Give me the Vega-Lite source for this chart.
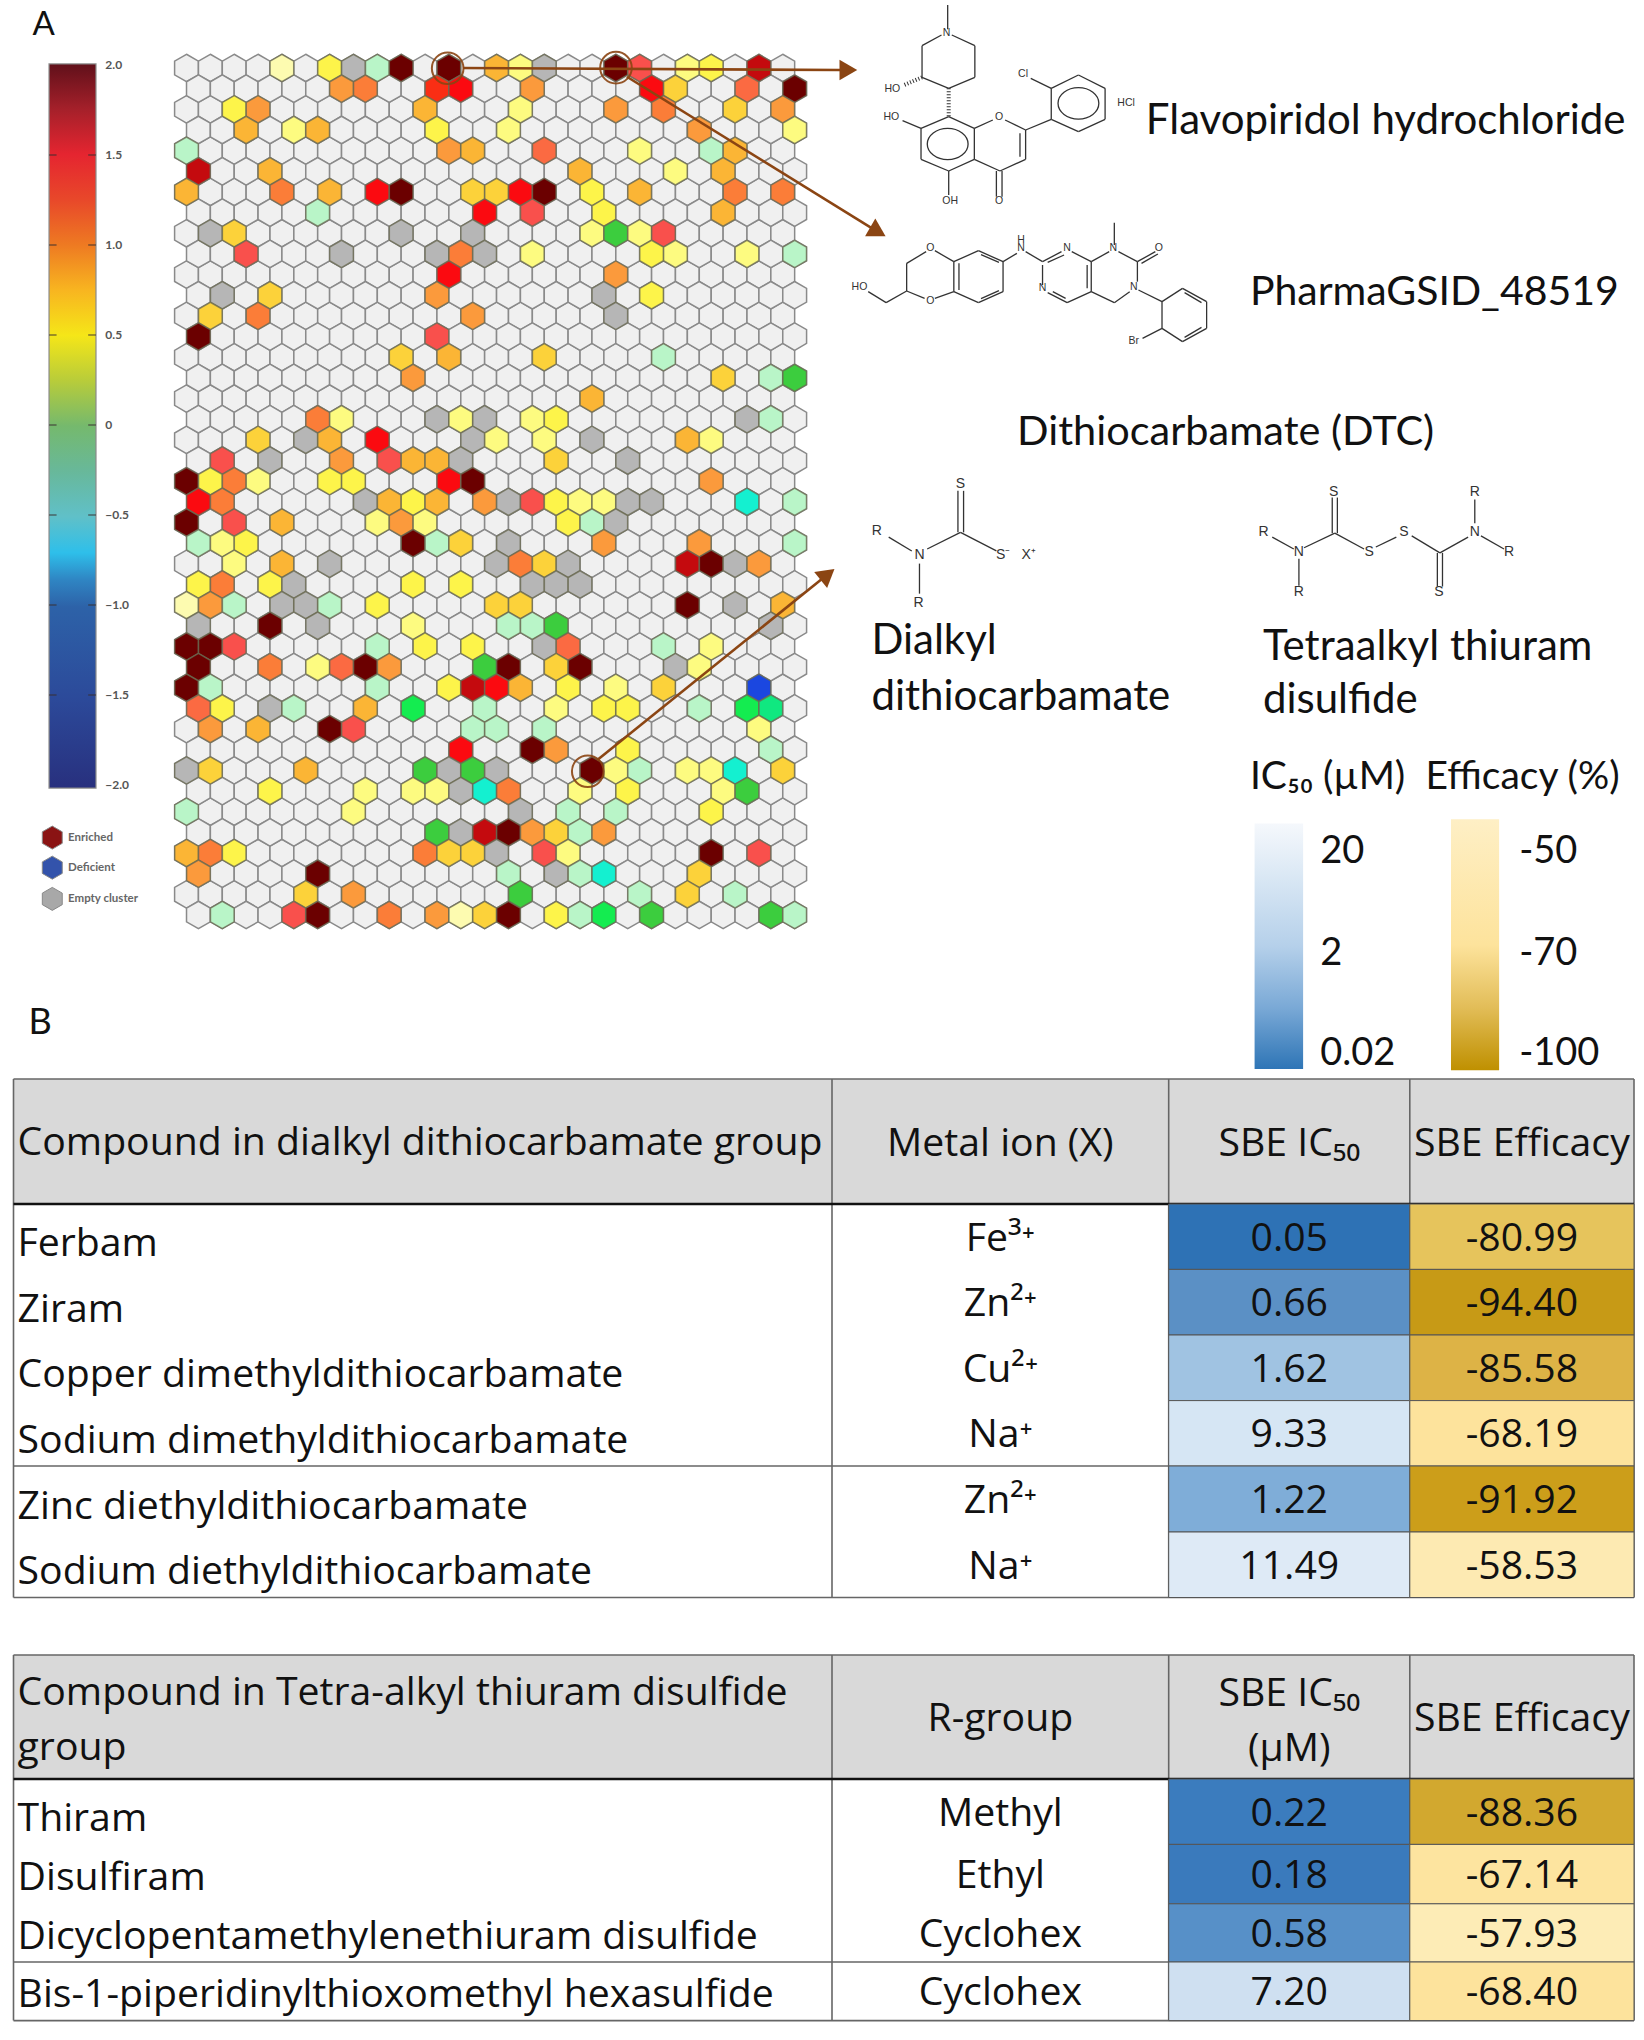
{"$schema":"https://vega.github.io/schema/vega-lite/v6.json","width":1644,"height":2040,"padding":0,"autosize":{"type":"none"},"background":"white","config":{"view":{"stroke":null},"axis":{"disable":true},"legend":{"disable":true},"text":{"font":"Lato"}},
"datasets":{
"grid":[{"y":[0,2,4,6,8,10,12,14,16,18,20,22,24,26,28,30,32,34,36,38,40],"x":[0,1,2,3,4,5,6,7,8,9,10,11,12,13,14,15,16,17,18,19,20,21,22,23,24,25]},{"y":[1,3,5,7,9,11,13,15,17,19,21,23,25,27,29,31,33,35,37,39,41],"x":[0.5,1.5,2.5,3.5,4.5,5.5,6.5,7.5,8.5,9.5,10.5,11.5,12.5,13.5,14.5,15.5,16.5,17.5,18.5,19.5,20.5,21.5,22.5,23.5,24.5,25.5]}],
"hits":[
{"y":0,"x":4,"k":"p"},{"y":0,"x":6,"k":"Y"},{"y":0,"x":7,"k":"X"},{"y":0,"x":8,"k":"m"},{"y":0,"x":9,"k":"M"},{"y":0,"x":11,"k":"M"},{"y":0,"x":13,"k":"A"},{"y":0,"x":14,"k":"y"},{"y":0,"x":15,"k":"X"},{"y":0,"x":18,"k":"M"},{"y":0,"x":19,"k":"r"},{"y":0,"x":21,"k":"y"},{"y":0,"x":22,"k":"Y"},{"y":0,"x":24,"k":"D"},
{"y":1,"x":6.5,"k":"O"},{"y":1,"x":7.5,"k":"o"},{"y":1,"x":10.5,"k":"T"},{"y":1,"x":11.5,"k":"R"},{"y":1,"x":14.5,"k":"O"},{"y":1,"x":19.5,"k":"R"},{"y":1,"x":20.5,"k":"G"},{"y":1,"x":23.5,"k":"s"},{"y":1,"x":25.5,"k":"M"},
{"y":2,"x":2,"k":"Y"},{"y":2,"x":3,"k":"O"},{"y":2,"x":10,"k":"A"},{"y":2,"x":14,"k":"y"},{"y":2,"x":18,"k":"O"},{"y":2,"x":20,"k":"o"},{"y":2,"x":23,"k":"G"},{"y":2,"x":25,"k":"O"},
{"y":3,"x":2.5,"k":"A"},{"y":3,"x":4.5,"k":"y"},{"y":3,"x":5.5,"k":"A"},{"y":3,"x":10.5,"k":"Y"},{"y":3,"x":13.5,"k":"y"},{"y":3,"x":21.5,"k":"O"},{"y":3,"x":25.5,"k":"y"},
{"y":4,"x":0,"k":"m"},{"y":4,"x":11,"k":"O"},{"y":4,"x":12,"k":"A"},{"y":4,"x":15,"k":"s"},{"y":4,"x":19,"k":"y"},{"y":4,"x":22,"k":"m"},{"y":4,"x":23,"k":"A"},
{"y":5,"x":0.5,"k":"D"},{"y":5,"x":3.5,"k":"A"},{"y":5,"x":16.5,"k":"A"},{"y":5,"x":20.5,"k":"y"},{"y":5,"x":22.5,"k":"A"},
{"y":6,"x":0,"k":"A"},{"y":6,"x":4,"k":"o"},{"y":6,"x":6,"k":"A"},{"y":6,"x":8,"k":"R"},{"y":6,"x":9,"k":"M"},{"y":6,"x":12,"k":"G"},{"y":6,"x":13,"k":"G"},{"y":6,"x":14,"k":"R"},{"y":6,"x":15,"k":"M"},{"y":6,"x":17,"k":"Y"},{"y":6,"x":19,"k":"A"},{"y":6,"x":23,"k":"o"},{"y":6,"x":25,"k":"o"},
{"y":7,"x":5.5,"k":"m"},{"y":7,"x":12.5,"k":"R"},{"y":7,"x":14.5,"k":"r"},{"y":7,"x":17.5,"k":"Y"},{"y":7,"x":22.5,"k":"A"},
{"y":8,"x":1,"k":"X"},{"y":8,"x":2,"k":"G"},{"y":8,"x":9,"k":"X"},{"y":8,"x":12,"k":"X"},{"y":8,"x":17,"k":"y"},{"y":8,"x":18,"k":"g"},{"y":8,"x":19,"k":"y"},{"y":8,"x":20,"k":"r"},
{"y":9,"x":2.5,"k":"r"},{"y":9,"x":6.5,"k":"X"},{"y":9,"x":10.5,"k":"X"},{"y":9,"x":11.5,"k":"o"},{"y":9,"x":12.5,"k":"X"},{"y":9,"x":14.5,"k":"y"},{"y":9,"x":19.5,"k":"Y"},{"y":9,"x":20.5,"k":"y"},{"y":9,"x":23.5,"k":"y"},{"y":9,"x":25.5,"k":"m"},
{"y":10,"x":11,"k":"R"},{"y":10,"x":18,"k":"O"},
{"y":11,"x":1.5,"k":"X"},{"y":11,"x":3.5,"k":"G"},{"y":11,"x":10.5,"k":"O"},{"y":11,"x":17.5,"k":"X"},{"y":11,"x":19.5,"k":"Y"},
{"y":12,"x":1,"k":"G"},{"y":12,"x":3,"k":"o"},{"y":12,"x":12,"k":"O"},{"y":12,"x":18,"k":"X"},
{"y":13,"x":0.5,"k":"M"},{"y":13,"x":10.5,"k":"r"},
{"y":14,"x":9,"k":"G"},{"y":14,"x":11,"k":"A"},{"y":14,"x":15,"k":"G"},{"y":14,"x":20,"k":"m"},
{"y":15,"x":9.5,"k":"O"},{"y":15,"x":22.5,"k":"G"},{"y":15,"x":24.5,"k":"m"},{"y":15,"x":25.5,"k":"g"},
{"y":16,"x":17,"k":"A"},
{"y":17,"x":5.5,"k":"o"},{"y":17,"x":6.5,"k":"y"},{"y":17,"x":10.5,"k":"X"},{"y":17,"x":11.5,"k":"y"},{"y":17,"x":12.5,"k":"X"},{"y":17,"x":14.5,"k":"y"},{"y":17,"x":15.5,"k":"Y"},{"y":17,"x":23.5,"k":"X"},{"y":17,"x":24.5,"k":"m"},
{"y":18,"x":3,"k":"G"},{"y":18,"x":5,"k":"X"},{"y":18,"x":6,"k":"A"},{"y":18,"x":8,"k":"R"},{"y":18,"x":12,"k":"X"},{"y":18,"x":13,"k":"y"},{"y":18,"x":15,"k":"y"},{"y":18,"x":17,"k":"X"},{"y":18,"x":21,"k":"A"},{"y":18,"x":22,"k":"y"},
{"y":19,"x":1.5,"k":"r"},{"y":19,"x":3.5,"k":"X"},{"y":19,"x":6.5,"k":"O"},{"y":19,"x":8.5,"k":"r"},{"y":19,"x":9.5,"k":"A"},{"y":19,"x":10.5,"k":"A"},{"y":19,"x":11.5,"k":"X"},{"y":19,"x":15.5,"k":"G"},{"y":19,"x":18.5,"k":"X"},
{"y":20,"x":0,"k":"M"},{"y":20,"x":1,"k":"Y"},{"y":20,"x":2,"k":"o"},{"y":20,"x":3,"k":"y"},{"y":20,"x":6,"k":"Y"},{"y":20,"x":7,"k":"Y"},{"y":20,"x":11,"k":"R"},{"y":20,"x":12,"k":"M"},{"y":20,"x":22,"k":"O"},
{"y":21,"x":0.5,"k":"R"},{"y":21,"x":1.5,"k":"o"},{"y":21,"x":7.5,"k":"X"},{"y":21,"x":8.5,"k":"A"},{"y":21,"x":9.5,"k":"Y"},{"y":21,"x":10.5,"k":"A"},{"y":21,"x":12.5,"k":"O"},{"y":21,"x":13.5,"k":"X"},{"y":21,"x":14.5,"k":"r"},{"y":21,"x":15.5,"k":"Y"},{"y":21,"x":16.5,"k":"y"},{"y":21,"x":17.5,"k":"y"},{"y":21,"x":18.5,"k":"X"},{"y":21,"x":19.5,"k":"X"},{"y":21,"x":23.5,"k":"c"},{"y":21,"x":25.5,"k":"m"},
{"y":22,"x":0,"k":"M"},{"y":22,"x":2,"k":"r"},{"y":22,"x":4,"k":"A"},{"y":22,"x":8,"k":"y"},{"y":22,"x":9,"k":"O"},{"y":22,"x":10,"k":"y"},{"y":22,"x":16,"k":"Y"},{"y":22,"x":17,"k":"m"},{"y":22,"x":18,"k":"X"},
{"y":23,"x":0.5,"k":"m"},{"y":23,"x":1.5,"k":"y"},{"y":23,"x":2.5,"k":"Y"},{"y":23,"x":9.5,"k":"M"},{"y":23,"x":10.5,"k":"m"},{"y":23,"x":11.5,"k":"G"},{"y":23,"x":13.5,"k":"X"},{"y":23,"x":17.5,"k":"O"},{"y":23,"x":21.5,"k":"O"},{"y":23,"x":25.5,"k":"m"},
{"y":24,"x":2,"k":"y"},{"y":24,"x":4,"k":"A"},{"y":24,"x":6,"k":"X"},{"y":24,"x":13,"k":"X"},{"y":24,"x":14,"k":"o"},{"y":24,"x":15,"k":"G"},{"y":24,"x":16,"k":"X"},{"y":24,"x":21,"k":"D"},{"y":24,"x":22,"k":"M"},{"y":24,"x":23,"k":"X"},{"y":24,"x":24,"k":"O"},
{"y":25,"x":0.5,"k":"Y"},{"y":25,"x":1.5,"k":"o"},{"y":25,"x":3.5,"k":"Y"},{"y":25,"x":4.5,"k":"X"},{"y":25,"x":9.5,"k":"Y"},{"y":25,"x":11.5,"k":"Y"},{"y":25,"x":14.5,"k":"X"},{"y":25,"x":15.5,"k":"X"},{"y":25,"x":16.5,"k":"X"},
{"y":26,"x":0,"k":"p"},{"y":26,"x":1,"k":"O"},{"y":26,"x":2,"k":"m"},{"y":26,"x":4,"k":"X"},{"y":26,"x":5,"k":"X"},{"y":26,"x":6,"k":"m"},{"y":26,"x":8,"k":"Y"},{"y":26,"x":13,"k":"G"},{"y":26,"x":14,"k":"G"},{"y":26,"x":21,"k":"M"},{"y":26,"x":23,"k":"X"},{"y":26,"x":25,"k":"A"},
{"y":27,"x":0.5,"k":"X"},{"y":27,"x":3.5,"k":"M"},{"y":27,"x":5.5,"k":"X"},{"y":27,"x":9.5,"k":"y"},{"y":27,"x":13.5,"k":"m"},{"y":27,"x":14.5,"k":"m"},{"y":27,"x":15.5,"k":"g"},{"y":27,"x":24.5,"k":"X"},
{"y":28,"x":0,"k":"M"},{"y":28,"x":1,"k":"M"},{"y":28,"x":2,"k":"r"},{"y":28,"x":8,"k":"m"},{"y":28,"x":10,"k":"Y"},{"y":28,"x":12,"k":"Y"},{"y":28,"x":15,"k":"X"},{"y":28,"x":16,"k":"s"},{"y":28,"x":20,"k":"m"},{"y":28,"x":22,"k":"y"},
{"y":29,"x":0.5,"k":"M"},{"y":29,"x":3.5,"k":"o"},{"y":29,"x":5.5,"k":"y"},{"y":29,"x":6.5,"k":"s"},{"y":29,"x":7.5,"k":"M"},{"y":29,"x":8.5,"k":"O"},{"y":29,"x":12.5,"k":"g"},{"y":29,"x":13.5,"k":"M"},{"y":29,"x":15.5,"k":"G"},{"y":29,"x":16.5,"k":"M"},{"y":29,"x":20.5,"k":"X"},{"y":29,"x":21.5,"k":"y"},
{"y":30,"x":0,"k":"M"},{"y":30,"x":1,"k":"m"},{"y":30,"x":8,"k":"m"},{"y":30,"x":11,"k":"Y"},{"y":30,"x":12,"k":"D"},{"y":30,"x":13,"k":"R"},{"y":30,"x":14,"k":"A"},{"y":30,"x":16,"k":"Y"},{"y":30,"x":18,"k":"y"},{"y":30,"x":20,"k":"G"},{"y":30,"x":24,"k":"B"},
{"y":31,"x":0.5,"k":"s"},{"y":31,"x":1.5,"k":"Y"},{"y":31,"x":3.5,"k":"X"},{"y":31,"x":4.5,"k":"m"},{"y":31,"x":7.5,"k":"A"},{"y":31,"x":9.5,"k":"b"},{"y":31,"x":12.5,"k":"m"},{"y":31,"x":15.5,"k":"y"},{"y":31,"x":17.5,"k":"Y"},{"y":31,"x":18.5,"k":"Y"},{"y":31,"x":21.5,"k":"m"},{"y":31,"x":23.5,"k":"b"},{"y":31,"x":24.5,"k":"e"},
{"y":32,"x":1,"k":"O"},{"y":32,"x":3,"k":"A"},{"y":32,"x":6,"k":"M"},{"y":32,"x":7,"k":"r"},{"y":32,"x":12,"k":"m"},{"y":32,"x":13,"k":"m"},{"y":32,"x":15,"k":"m"},{"y":32,"x":24,"k":"y"},
{"y":33,"x":11.5,"k":"R"},{"y":33,"x":14.5,"k":"M"},{"y":33,"x":15.5,"k":"O"},{"y":33,"x":18.5,"k":"Y"},{"y":33,"x":24.5,"k":"m"},
{"y":34,"x":0,"k":"X"},{"y":34,"x":1,"k":"G"},{"y":34,"x":5,"k":"A"},{"y":34,"x":10,"k":"g"},{"y":34,"x":11,"k":"X"},{"y":34,"x":12,"k":"g"},{"y":34,"x":13,"k":"X"},{"y":34,"x":17,"k":"M"},{"y":34,"x":18,"k":"y"},{"y":34,"x":19,"k":"m"},{"y":34,"x":21,"k":"y"},{"y":34,"x":22,"k":"y"},{"y":34,"x":23,"k":"c"},{"y":34,"x":25,"k":"G"},
{"y":35,"x":3.5,"k":"Y"},{"y":35,"x":7.5,"k":"y"},{"y":35,"x":9.5,"k":"y"},{"y":35,"x":10.5,"k":"y"},{"y":35,"x":11.5,"k":"X"},{"y":35,"x":12.5,"k":"c"},{"y":35,"x":13.5,"k":"o"},{"y":35,"x":16.5,"k":"y"},{"y":35,"x":18.5,"k":"Y"},{"y":35,"x":22.5,"k":"y"},{"y":35,"x":23.5,"k":"g"},
{"y":36,"x":0,"k":"m"},{"y":36,"x":7,"k":"y"},{"y":36,"x":14,"k":"X"},{"y":36,"x":16,"k":"m"},{"y":36,"x":18,"k":"m"},{"y":36,"x":22,"k":"Y"},
{"y":37,"x":10.5,"k":"g"},{"y":37,"x":11.5,"k":"X"},{"y":37,"x":12.5,"k":"D"},{"y":37,"x":13.5,"k":"M"},{"y":37,"x":14.5,"k":"O"},{"y":37,"x":15.5,"k":"G"},{"y":37,"x":16.5,"k":"m"},{"y":37,"x":17.5,"k":"O"},
{"y":38,"x":0,"k":"A"},{"y":38,"x":1,"k":"o"},{"y":38,"x":2,"k":"Y"},{"y":38,"x":10,"k":"o"},{"y":38,"x":11,"k":"G"},{"y":38,"x":12,"k":"G"},{"y":38,"x":13,"k":"X"},{"y":38,"x":15,"k":"r"},{"y":38,"x":16,"k":"y"},{"y":38,"x":22,"k":"M"},{"y":38,"x":24,"k":"r"},
{"y":39,"x":0.5,"k":"O"},{"y":39,"x":5.5,"k":"M"},{"y":39,"x":13.5,"k":"m"},{"y":39,"x":15.5,"k":"X"},{"y":39,"x":16.5,"k":"m"},{"y":39,"x":17.5,"k":"c"},{"y":39,"x":21.5,"k":"G"},
{"y":40,"x":5,"k":"G"},{"y":40,"x":7,"k":"O"},{"y":40,"x":14,"k":"g"},{"y":40,"x":19,"k":"m"},{"y":40,"x":21,"k":"G"},{"y":40,"x":23,"k":"m"},
{"y":41,"x":1.5,"k":"m"},{"y":41,"x":4.5,"k":"r"},{"y":41,"x":5.5,"k":"M"},{"y":41,"x":8.5,"k":"o"},{"y":41,"x":10.5,"k":"O"},{"y":41,"x":11.5,"k":"p"},{"y":41,"x":12.5,"k":"G"},{"y":41,"x":13.5,"k":"M"},{"y":41,"x":15.5,"k":"Y"},{"y":41,"x":16.5,"k":"m"},{"y":41,"x":17.5,"k":"b"},{"y":41,"x":19.5,"k":"g"},{"y":41,"x":24.5,"k":"g"},{"y":41,"x":25.5,"k":"m"}],
"m5bonds":[{"a":210,"b":15,"c":210,"d":88},{"a":198,"b":105,"c":160,"d":137},{"a":160,"b":137,"c":160,"d":232},{"a":160,"b":232,"c":212,"d":265},{"a":212,"b":265,"c":263,"d":232},{"a":263,"b":232,"c":263,"d":137},{"a":263,"b":137,"c":218,"d":105},
{"a":212,"b":350,"c":158,"d":385},{"a":158,"b":385,"c":158,"d":478},{"a":158,"b":478,"c":212,"d":513},{"a":212,"b":513,"c":262,"d":478},{"a":262,"b":478,"c":262,"d":385},{"a":262,"b":385,"c":212,"d":350},
{"a":262,"b":385,"c":298,"d":360},{"a":322,"b":360,"c":362,"d":390},{"a":362,"b":390,"c":362,"d":478},{"a":351,"b":400,"c":351,"d":470},{"a":362,"b":478,"c":312,"d":513},{"a":312,"b":513,"c":262,"d":478},{"a":305,"b":513,"c":305,"d":590},{"a":316,"b":513,"c":316,"d":590},{"a":212,"b":513,"c":212,"d":585},{"a":158,"b":385,"c":122,"d":362},{"a":362,"b":390,"c":412,"d":358},{"a":412,"b":358,"c":412,"d":265},{"a":412,"b":265,"c":465,"d":225},{"a":465,"b":225,"c":517,"d":265},{"a":517,"b":265,"c":517,"d":358},{"a":517,"b":358,"c":465,"d":395},{"a":465,"b":395,"c":412,"d":358},{"a":412,"b":265,"c":372,"d":235},
{"a":55,"b":875,"c":90,"d":908},{"a":90,"b":908,"c":130,"d":873},{"a":130,"b":873,"c":165,"d":895},{"a":130,"b":873,"c":130,"d":790},{"a":130,"b":790,"c":168,"d":755},{"a":185,"b":752,"c":222,"d":785},{"a":222,"b":785,"c":270,"d":752},{"a":270,"b":752,"c":318,"d":785},{"a":318,"b":785,"c":318,"d":875},{"a":318,"b":875,"c":270,"d":908},{"a":270,"b":908,"c":222,"d":875},{"a":222,"b":875,"c":222,"d":785},{"a":232,"b":790,"c":232,"d":870},{"a":275,"b":764,"c":310,"d":787},{"a":275,"b":896,"c":310,"d":872},{"a":185,"b":895,"c":222,"d":875},{"a":318,"b":785,"c":345,"d":760},{"a":362,"b":755,"c":395,"d":785},
{"a":395,"b":785,"c":432,"d":755},{"a":405,"b":787,"c":437,"d":765},{"a":452,"b":755,"c":490,"d":785},{"a":490,"b":785,"c":490,"d":875},{"a":482,"b":795,"c":482,"d":865},{"a":490,"b":875,"c":443,"d":908},{"a":443,"b":908,"c":405,"d":878},{"a":440,"b":895,"c":415,"d":875},{"a":395,"b":855,"c":395,"d":795},{"a":490,"b":785,"c":525,"d":755},{"a":535,"b":668,"c":535,"d":735},{"a":543,"b":755,"c":580,"d":785},{"a":580,"b":785,"c":615,"d":755},{"a":588,"b":790,"c":620,"d":762},{"a":580,"b":785,"c":580,"d":845},{"a":565,"b":875,"c":535,"d":908},{"a":535,"b":908,"c":490,"d":875},{"a":582,"b":870,"c":628,"d":905},{"a":628,"b":905,"c":668,"d":865},{"a":668,"b":865,"c":715,"d":905},{"a":715,"b":905,"c":715,"d":985},{"a":715,"b":985,"c":668,"d":1025},{"a":668,"b":1025,"c":628,"d":985},{"a":628,"b":985,"c":628,"d":905},{"a":672,"b":878,"c":705,"d":908},{"a":705,"b":982,"c":672,"d":1012},{"a":628,"b":985,"c":590,"d":1015}],
"m5text":[{"x":208,"y":98,"t":"N"},{"x":102,"y":267,"t":"HO"},{"x":100,"y":350,"t":"HO"},{"x":357,"y":222,"t":"Cl"},{"x":558,"y":310,"t":"HCl"},{"x":310,"y":350,"t":"O"},{"x":310,"y":603,"t":"O"},{"x":215,"y":602,"t":"OH"},{"x":38,"y":862,"t":"HO"},{"x":176,"y":745,"t":"O"},{"x":176,"y":903,"t":"O"},{"x":353,"y":745,"t":"N"},{"x":353,"y":720,"t":"H"},{"x":443,"y":745,"t":"N"},{"x":395,"y":865,"t":"N"},{"x":533,"y":745,"t":"N"},{"x":622,"y":745,"t":"O"},{"x":573,"y":862,"t":"N"},{"x":573,"y":1022,"t":"Br"}],
"m6bonds":[{"a":230,"b":78,"c":230,"d":183},{"a":241,"b":78,"c":241,"d":183},{"a":235,"b":183,"c":170,"d":225},{"a":95,"b":195,"c":140,"d":230},{"a":155,"b":262,"c":155,"d":338},{"a":235,"b":183,"c":305,"d":230},
{"a":843,"b":195,"c":885,"d":225},{"a":905,"b":222,"c":965,"d":185},{"a":960,"b":95,"c":960,"d":185},{"a":970,"b":95,"c":970,"d":185},{"a":965,"b":185,"c":1022,"d":225},{"a":1045,"b":220,"c":1085,"d":195},{"a":1115,"b":192,"c":1170,"d":235},{"a":1165,"b":235,"c":1165,"d":320},{"a":1175,"b":235,"c":1175,"d":320},{"a":1170,"b":235,"c":1225,"d":195},{"a":1238,"b":160,"c":1238,"d":100},{"a":1250,"b":192,"c":1295,"d":225},{"a":895,"b":250,"c":895,"d":318}],
"m6text":[{"x":235,"y":60,"t":"S"},{"x":72,"y":180,"t":"R"},{"x":155,"y":240,"t":"N"},{"x":153,"y":362,"t":"R"},{"x":318,"y":240,"t":"S⁻"},{"x":368,"y":240,"t":"X⁺"},{"x":826,"y":182,"t":"R"},{"x":895,"y":232,"t":"N"},{"x":963,"y":80,"t":"S"},{"x":1032,"y":232,"t":"S"},{"x":1100,"y":182,"t":"S"},{"x":1168,"y":333,"t":"S"},{"x":1238,"y":182,"t":"N"},{"x":1238,"y":80,"t":"R"},{"x":1305,"y":232,"t":"R"},{"x":895,"y":333,"t":"R"}],
"page":[{"x":25,"y":19.3,"t":"A","s":33},{"x":22,"y":786,"t":"B","s":36},{"x":881,"y":93,"t":"Flavopiridol hydrochloride","s":42},{"x":961,"y":225,"t":"PharmaGSID_48519","s":41},{"x":782,"y":333,"t":"Dithiocarbamate (DTC)","s":41.5},{"x":670,"y":493,"t":"Dialkyl","s":42},{"x":670,"y":536,"t":"dithiocarbamate","s":42},{"x":971,"y":497,"t":"Tetraalkyl thiuram","s":42},{"x":971,"y":538,"t":"disulfide","s":42},{"x":961,"y":597,"t":"IC₅₀ (µM)","s":39},{"x":1096,"y":597,"t":"Efficacy (%)","s":39},{"x":1015,"y":655,"t":"20","s":38},{"x":1015,"y":733,"t":"2","s":38},{"x":1015,"y":810,"t":"0.02","s":38},{"x":1168,"y":655,"t":"-50","s":38},{"x":1168,"y":733,"t":"-70","s":38},{"x":1168,"y":810,"t":"-100","s":38}],
"arrows":[{"a":356,"b":52.3,"c":646,"d":53.8},{"a":482,"b":59,"c":673,"d":177},{"a":459,"b":584.3,"c":634.5,"d":443}],
"heads":[{"x":650,"y":53.8,"ang":90},{"x":673,"y":177,"ang":120},{"x":634.5,"y":443,"ang":51}],
"rings":[{"x":344.2,"y":52.5},{"x":473.6,"y":52},{"x":451.9,"y":592.8}],
"hexkey":[{"v":"Enriched","x":40.2,"y":643.8,"lx":52.3},{"v":"Deficient","x":40.2,"y":666.9,"lx":52.3},{"v":"Empty cluster","x":40.2,"y":690.9,"lx":52.3}],
"scaleTicks":[{"v":1.5,"a":37.7,"c":43.5},{"v":1.5,"a":67.8,"c":73.8},{"v":1,"a":37.7,"c":43.5},{"v":1,"a":67.8,"c":73.8},{"v":0.5,"a":37.7,"c":43.5},{"v":0.5,"a":67.8,"c":73.8},{"v":0,"a":37.7,"c":43.5},{"v":0,"a":67.8,"c":73.8},{"v":-0.5,"a":37.7,"c":43.5},{"v":-0.5,"a":67.8,"c":73.8},{"v":-1,"a":37.7,"c":43.5},{"v":-1,"a":67.8,"c":73.8},{"v":-1.5,"a":37.7,"c":43.5},{"v":-1.5,"a":67.8,"c":73.8}],
"scaleLabels":[{"v":2,"t":"2.0","x":81},{"v":1.5,"t":"1.5","x":81},{"v":1,"t":"1.0","x":81},{"v":0.5,"t":"0.5","x":81},{"v":0,"t":"0","x":81},{"v":-0.5,"t":"−0.5","x":81},{"v":-1,"t":"−1.0","x":81},{"v":-1.5,"t":"−1.5","x":81},{"v":-2,"t":"−2.0","x":81}],
"assay":[{"r0":1,"r1":2,"ic50":0.05,"eff":-80.99},{"r0":2,"r1":3,"ic50":0.66,"eff":-94.4},{"r0":3,"r1":4,"ic50":1.62,"eff":-85.58},{"r0":4,"r1":5,"ic50":9.33,"eff":-68.19},{"r0":5,"r1":6,"ic50":1.22,"eff":-91.92},{"r0":6,"r1":7,"ic50":11.49,"eff":-58.53},{"r0":9,"r1":10,"ic50":0.22,"eff":-88.36},{"r0":10,"r1":11,"ic50":0.18,"eff":-67.14},{"r0":11,"r1":12,"ic50":0.58,"eff":-57.93},{"r0":12,"r1":13,"ic50":7.2,"eff":-68.4}],
"left":[{"c":0.005,"r":0.5,"t":"Compound in dialkyl dithiocarbamate group"},{"c":0.005,"r":1.6,"t":"Ferbam"},{"c":0.005,"r":2.6,"t":"Ziram"},{"c":0.005,"r":3.6,"t":"Copper dimethyldithiocarbamate"},{"c":0.005,"r":4.6,"t":"Sodium dimethyldithiocarbamate"},{"c":0.005,"r":5.6,"t":"Zinc diethyldithiocarbamate"},{"c":0.005,"r":6.6,"t":"Sodium diethyldithiocarbamate"},{"c":0.005,"r":8.3,"t":"Compound in Tetra-alkyl thiuram disulfide"},{"c":0.005,"r":8.74,"t":"group"},{"c":0.005,"r":9.6,"t":"Thiram"},{"c":0.005,"r":10.55,"t":"Disulfiram"},{"c":0.005,"r":11.55,"t":"Dicyclopentamethylenethiuram disulfide"},{"c":0.005,"r":12.55,"t":"Bis-1-piperidinylthioxomethyl hexasulfide"}],
"center":[{"c":1.5,"r":0.5,"t":"Metal ion (X)"},{"c":2.5,"r":0.5,"t":"SBE IC₅₀"},{"c":3.5,"r":0.5,"t":"SBE Efficacy"},{"c":1.5,"r":1.5,"t":"Fe³⁺"},{"c":1.5,"r":2.5,"t":"Zn²⁺"},{"c":1.5,"r":3.5,"t":"Cu²⁺"},{"c":1.5,"r":4.5,"t":"Na⁺"},{"c":1.5,"r":5.5,"t":"Zn²⁺"},{"c":1.5,"r":6.5,"t":"Na⁺"},{"c":2.5,"r":1.5,"t":"0.05"},{"c":2.5,"r":2.5,"t":"0.66"},{"c":2.5,"r":3.5,"t":"1.62"},{"c":2.5,"r":4.5,"t":"9.33"},{"c":2.5,"r":5.5,"t":"1.22"},{"c":2.5,"r":6.5,"t":"11.49"},{"c":3.5,"r":1.5,"t":"-80.99"},{"c":3.5,"r":2.5,"t":"-94.40"},{"c":3.5,"r":3.5,"t":"-85.58"},{"c":3.5,"r":4.5,"t":"-68.19"},{"c":3.5,"r":5.5,"t":"-91.92"},{"c":3.5,"r":6.5,"t":"-58.53"},{"c":1.5,"r":8.5,"t":"R-group"},{"c":2.5,"r":8.3,"t":"SBE IC₅₀"},{"c":2.5,"r":8.74,"t":"(µM)"},{"c":3.5,"r":8.5,"t":"SBE Efficacy"},{"c":1.5,"r":9.5,"t":"Methyl"},{"c":1.5,"r":10.5,"t":"Ethyl"},{"c":1.5,"r":11.5,"t":"Cyclohex"},{"c":1.5,"r":12.5,"t":"Cyclohex"},{"c":2.5,"r":9.5,"t":"0.22"},{"c":2.5,"r":10.5,"t":"0.18"},{"c":2.5,"r":11.5,"t":"0.58"},{"c":2.5,"r":12.5,"t":"7.20"},{"c":3.5,"r":9.5,"t":"-88.36"},{"c":3.5,"r":10.5,"t":"-67.14"},{"c":3.5,"r":11.5,"t":"-57.93"},{"c":3.5,"r":12.5,"t":"-68.40"}],
"gridlines":[{"a":0,"c":4,"b":0,"d":0},{"a":0,"c":4,"b":7,"d":7},{"a":0,"c":4,"b":8,"d":8},{"a":0,"c":4,"b":13,"d":13},{"a":0,"c":2,"b":5,"d":5},{"a":0,"c":2,"b":12,"d":12},{"a":0,"c":0,"b":0,"d":7},{"a":1,"c":1,"b":0,"d":7},{"a":2,"c":2,"b":0,"d":7},{"a":3,"c":3,"b":0,"d":7},{"a":4,"c":4,"b":0,"d":7},{"a":0,"c":0,"b":8,"d":13},{"a":1,"c":1,"b":8,"d":13},{"a":2,"c":2,"b":8,"d":13},{"a":3,"c":3,"b":8,"d":13},{"a":4,"c":4,"b":8,"d":13}],
"headlines":[{"a":0,"c":4,"b":1,"d":1},{"a":0,"c":4,"b":9,"d":9}],
"headers":[{"a":0,"c":4,"b":0,"d":1},{"a":0,"c":4,"b":8,"d":9}]
},
"resolve":{"scale":{"x":"independent","y":"independent","fill":"independent"}},
"layer":[
{"data":{"name":"grid"},"transform":[{"flatten":["x"]},{"flatten":["y"]}],"mark":{"type":"point","shape":"M0,-1L0.866,-0.5L0.866,0.5L0,1L-0.866,0.5L-0.866,-0.5Z","filled":true,"fill":"#f0f0f0","fillOpacity":1,"stroke":"#8a8a8a","strokeWidth":1.5,"size":756,"opacity":1},
"encoding":{"x":{"field":"x","type":"quantitative","scale":{"domain":[0,25],"range":[186.5,782.75],"nice":false,"zero":false}},"y":{"field":"y","type":"quantitative","scale":{"domain":[0,41],"range":[68,915],"nice":false,"zero":false}}}},
{"data":{"name":"hits"},"mark":{"type":"point","shape":"M0,-1L0.866,-0.5L0.866,0.5L0,1L-0.866,0.5L-0.866,-0.5Z","filled":true,"fillOpacity":1,"stroke":"#6a6a50","strokeOpacity":0.75,"strokeWidth":1.4,"size":740,"opacity":1},
"encoding":{"x":{"field":"x","type":"quantitative","scale":{"domain":[0,25],"range":[186.5,782.75],"nice":false,"zero":false}},"y":{"field":"y","type":"quantitative","scale":{"domain":[0,41],"range":[68,915],"nice":false,"zero":false}},
"fill":{"field":"k","type":"nominal","scale":{"domain":["M","D","R","T","r","s","o","O","A","G","Y","y","p","m","g","b","e","c","B","X"],"range":["#6b0000","#c40a0e","#fb0a10","#fa2e14","#f9504c","#fb6a42","#fb7d38","#fb9a3c","#fbb535","#fcd23a","#fdf44a","#fdfb80","#fdfbb0","#b9f5c8","#3ccd3e","#14ec50","#10e880","#14f0d0","#1b47e0","#b6b6b6"]}}}},
{"data":{"values":[{"lo":-2.017,"hi":2.006,"a":37.7,"c":73.8}]},"mark":{"type":"rect","stroke":"#8a8a8a","strokeWidth":1.2,"fill":{"gradient":"linear","x1":0,"y1":0,"x2":0,"y2":1,"stops":[{"offset":0,"color":"#60101a"},{"offset":0.0625,"color":"#a5202a"},{"offset":0.125,"color":"#e52530"},{"offset":0.1875,"color":"#e8482a"},{"offset":0.25,"color":"#ee7a22"},{"offset":0.3125,"color":"#f8b520"},{"offset":0.375,"color":"#f5e618"},{"offset":0.4375,"color":"#b8cc3a"},{"offset":0.5,"color":"#75b96d"},{"offset":0.5625,"color":"#68b89a"},{"offset":0.625,"color":"#60c0c8"},{"offset":0.675,"color":"#2ebfea"},{"offset":0.7125,"color":"#2f85c3"},{"offset":0.75,"color":"#2d62a8"},{"offset":0.875,"color":"#2c4a9a"},{"offset":1,"color":"#28307e"}]}},
"encoding":{"x":{"field":"a","type":"quantitative","scale":{"domain":[0,1264],"range":[0,1644],"nice":false,"zero":false}},"x2":{"field":"c"},"y":{"field":"hi","type":"quantitative","scale":{"domain":[-2,2],"range":[785,65],"nice":false,"zero":false}},"y2":{"field":"lo"}}},
{"layer":[
{"data":{"name":"scaleTicks"},"mark":{"type":"rule","stroke":"#3a3030","strokeWidth":1.2,"opacity":0.8},"encoding":{"x":{"field":"a","type":"quantitative","scale":{"domain":[0,1264],"range":[0,1644],"nice":false,"zero":false}},"x2":{"field":"c"},"y":{"field":"v","type":"quantitative","scale":{"domain":[-2,2],"range":[785,65],"nice":false,"zero":false}}}},
{"data":{"name":"scaleLabels"},"mark":{"type":"text","align":"left","baseline":"middle","font":"Lato","fontSize":12,"fontWeight":"bold","fill":"#555555"},"encoding":{"x":{"field":"x","type":"quantitative","scale":{"domain":[0,1264],"range":[0,1644],"nice":false,"zero":false}},"y":{"field":"v","type":"quantitative","scale":{"domain":[-2,2],"range":[785,65],"nice":false,"zero":false}},"text":{"field":"t"}}}
]},
{"layer":[
{"data":{"name":"hexkey"},"mark":{"type":"point","shape":"M0,-1L0.866,-0.5L0.866,0.5L0,1L-0.866,0.5L-0.866,-0.5Z","filled":true,"fillOpacity":1,"size":529,"stroke":"#888888","strokeWidth":1,"opacity":1},"encoding":{"x":{"field":"x","type":"quantitative","scale":{"domain":[0,1264],"range":[0,1644],"nice":false,"zero":false}},"y":{"field":"y","type":"quantitative","scale":{"domain":[0,1568],"range":[0,2040],"nice":false,"zero":false}},"fill":{"field":"v","type":"nominal","scale":{"domain":["Enriched","Deficient","Empty cluster"],"range":["#8a1313","#3353ab","#a8a8a8"]}}}},
{"data":{"name":"hexkey"},"mark":{"type":"text","align":"left","baseline":"middle","font":"Lato","fontSize":11.5,"fontWeight":"bold","fill":"#666666"},"encoding":{"x":{"field":"lx","type":"quantitative","scale":{"domain":[0,1264],"range":[0,1644],"nice":false,"zero":false}},"y":{"field":"y","type":"quantitative","scale":{"domain":[0,1568],"range":[0,2040],"nice":false,"zero":false}},"text":{"field":"v"}}}
]},
{"layer":[
{"data":{"name":"arrows"},"mark":{"type":"rule","stroke":"#8b4513","strokeWidth":2.6},"encoding":{"x":{"field":"a","type":"quantitative","scale":{"domain":[0,1264],"range":[0,1644],"nice":false,"zero":false}},"x2":{"field":"c"},"y":{"field":"b","type":"quantitative","scale":{"domain":[0,1568],"range":[0,2040],"nice":false,"zero":false}},"y2":{"field":"d"}}},
{"data":{"name":"heads"},"mark":{"type":"point","shape":"triangle","filled":true,"fill":"#8b4513","fillOpacity":1,"size":420,"opacity":1},"encoding":{"x":{"field":"x","type":"quantitative","scale":{"domain":[0,1264],"range":[0,1644],"nice":false,"zero":false}},"y":{"field":"y","type":"quantitative","scale":{"domain":[0,1568],"range":[0,2040],"nice":false,"zero":false}},"angle":{"field":"ang","type":"quantitative","scale":null}}},
{"data":{"name":"rings"},"mark":{"type":"point","shape":"circle","filled":false,"stroke":"#8b4513","strokeWidth":2,"size":1000,"opacity":0.9},"encoding":{"x":{"field":"x","type":"quantitative","scale":{"domain":[0,1264],"range":[0,1644],"nice":false,"zero":false}},"y":{"field":"y","type":"quantitative","scale":{"domain":[0,1568],"range":[0,2040],"nice":false,"zero":false}}}},
{"data":{"name":"page"},"mark":{"type":"text","align":"left","baseline":"middle","font":"Lato","fill":"#111111"},"encoding":{"x":{"field":"x","type":"quantitative","scale":{"domain":[0,1264],"range":[0,1644],"nice":false,"zero":false}},"y":{"field":"y","type":"quantitative","scale":{"domain":[0,1568],"range":[0,2040],"nice":false,"zero":false}},"text":{"field":"t"},"size":{"field":"s","type":"quantitative","scale":null}}},
{"data":{"values":[{"a":964.6,"c":1001.9,"b":633,"d":821.7}]},"mark":{"type":"rect","fill":{"gradient":"linear","x1":0,"y1":0,"x2":0,"y2":1,"stops":[{"offset":0,"color":"#f5f8fc"},{"offset":0.2,"color":"#dce9f5"},{"offset":0.5,"color":"#b5d0ea"},{"offset":0.75,"color":"#7aa9d6"},{"offset":1,"color":"#2e75b6"}]}},"encoding":{"x":{"field":"a","type":"quantitative","scale":{"domain":[0,1264],"range":[0,1644],"nice":false,"zero":false}},"x2":{"field":"c"},"y":{"field":"b","type":"quantitative","scale":{"domain":[0,1568],"range":[0,2040],"nice":false,"zero":false}},"y2":{"field":"d"}}},
{"data":{"values":[{"a":1115.6,"c":1152.6,"b":629.7,"d":822.7}]},"mark":{"type":"rect","fill":{"gradient":"linear","x1":0,"y1":0,"x2":0,"y2":1,"stops":[{"offset":0,"color":"#feefc5"},{"offset":0.5,"color":"#fde39c"},{"offset":0.75,"color":"#e2bd58"},{"offset":1,"color":"#bf9000"}]}},"encoding":{"x":{"field":"a","type":"quantitative","scale":{"domain":[0,1264],"range":[0,1644],"nice":false,"zero":false}},"x2":{"field":"c"},"y":{"field":"b","type":"quantitative","scale":{"domain":[0,1568],"range":[0,2040],"nice":false,"zero":false}},"y2":{"field":"d"}}}
]},
{"layer":[
{"data":{"name":"m5bonds"},"mark":{"type":"rule","stroke":"#333333","strokeWidth":1.3},"encoding":{"x":{"field":"a","type":"quantitative","scale":{"domain":[0,1568],"range":[840,1644],"nice":false,"zero":false}},"x2":{"field":"c"},"y":{"field":"b","type":"quantitative","scale":{"domain":[0,1380],"range":[0,460],"nice":false,"zero":false}},"y2":{"field":"d"}}},
{"data":{"values":[{"a":212,"b":265,"c":212,"d":350},{"a":160,"b":232,"c":125,"d":255}]},"mark":{"type":"rule","stroke":"#333333","strokeWidth":4,"strokeDash":[1,2]},"encoding":{"x":{"field":"a","type":"quantitative","scale":{"domain":[0,1568],"range":[840,1644],"nice":false,"zero":false}},"x2":{"field":"c"},"y":{"field":"b","type":"quantitative","scale":{"domain":[0,1380],"range":[0,460],"nice":false,"zero":false}},"y2":{"field":"d"}}},
{"data":{"values":[{"x":210,"y":432},{"x":465,"y":310}]},"mark":{"type":"point","shape":"M-1.3,0A1.3,1 0 1,0 1.3,0A1.3,1 0 1,0 -1.3,0Z","filled":false,"stroke":"#333333","strokeWidth":1.3,"size":986,"opacity":1},"encoding":{"x":{"field":"x","type":"quantitative","scale":{"domain":[0,1568],"range":[840,1644],"nice":false,"zero":false}},"y":{"field":"y","type":"quantitative","scale":{"domain":[0,1380],"range":[0,460],"nice":false,"zero":false}}}},
{"data":{"name":"m5text"},"mark":{"type":"text","align":"center","baseline":"middle","font":"Liberation Sans","fontSize":10.5,"fill":"#333333"},"encoding":{"x":{"field":"x","type":"quantitative","scale":{"domain":[0,1568],"range":[840,1644],"nice":false,"zero":false}},"y":{"field":"y","type":"quantitative","scale":{"domain":[0,1380],"range":[0,460],"nice":false,"zero":false}},"text":{"field":"t"}}}
]},
{"layer":[
{"data":{"name":"m6bonds"},"mark":{"type":"rule","stroke":"#333333","strokeWidth":1.3},"encoding":{"x":{"field":"a","type":"quantitative","scale":{"domain":[0,1568],"range":[840,1644],"nice":false,"zero":false}},"x2":{"field":"c"},"y":{"field":"b","type":"quantitative","scale":{"domain":[0,1568],"range":[460,1080],"nice":false,"zero":false}},"y2":{"field":"d"}}},
{"data":{"name":"m6text"},"mark":{"type":"text","align":"center","baseline":"middle","font":"Liberation Sans","fontSize":14,"fill":"#333333"},"encoding":{"x":{"field":"x","type":"quantitative","scale":{"domain":[0,1568],"range":[840,1644],"nice":false,"zero":false}},"y":{"field":"y","type":"quantitative","scale":{"domain":[0,1568],"range":[460,1080],"nice":false,"zero":false}},"text":{"field":"t"}}}
]},
{"layer":[
{"data":{"name":"headers"},"mark":{"type":"rect","fill":"#d9d9d9"},"encoding":{"x":{"field":"a","type":"quantitative","scale":{"domain":[0,1,2,3,4],"range":[13.5,832,1168.7,1409.8,1634],"nice":false,"zero":false}},"x2":{"field":"c"},"y":{"field":"b","type":"quantitative","scale":{"domain":[0,1,2,3,4,5,6,7,8,9,10,11,12,13],"range":[1079,1204,1269.4,1335,1400.6,1466,1532,1597.5,1655,1779,1844.4,1903.8,1962,2020.6],"nice":false,"zero":false}},"y2":{"field":"d"}}},
{"data":{"name":"gridlines"},"mark":{"type":"rule","stroke":"#666666","strokeWidth":1.6},"encoding":{"x":{"field":"a","type":"quantitative"},"x2":{"field":"c"},"y":{"field":"b","type":"quantitative"},"y2":{"field":"d"}}},
{"data":{"name":"headlines"},"mark":{"type":"rule","stroke":"#111111","strokeWidth":2.4},"encoding":{"x":{"field":"a","type":"quantitative"},"x2":{"field":"c"},"y":{"field":"b","type":"quantitative"},"y2":{"field":"d"}}},
{"data":{"name":"left"},"mark":{"type":"text","align":"left","baseline":"middle","font":"Open Sans","fontSize":39.2,"dy":1,"fill":"#111111"},"encoding":{"x":{"field":"c","type":"quantitative"},"y":{"field":"r","type":"quantitative"},"text":{"field":"t"}}}
]},
{"layer":[
{"data":{"name":"assay"},"mark":{"type":"rect","stroke":"#555555","strokeWidth":1},"encoding":{"x":{"datum":2,"type":"quantitative","scale":{"domain":[0,1,2,3,4],"range":[13.5,832,1168.7,1409.8,1634],"nice":false,"zero":false}},"x2":{"datum":3},"y":{"field":"r0","type":"quantitative","scale":{"domain":[0,1,2,3,4,5,6,7,8,9,10,11,12,13],"range":[1079,1204,1269.4,1335,1400.6,1466,1532,1597.5,1655,1779,1844.4,1903.8,1962,2020.6],"nice":false,"zero":false}},"y2":{"field":"r1"},"fill":{"field":"ic50","type":"quantitative","scale":{"type":"log","domain":[0.05,0.18,0.22,0.58,0.66,1.22,1.62,7.2,9.33,11.49],"range":["#2e72b5","#3a7abc","#3b7cbe","#5790c8","#5b90c5","#7fadd8","#a0c3e2","#cfe0f1","#d6e6f4","#deeaf6"]}}}}
]},
{"layer":[
{"data":{"name":"assay"},"mark":{"type":"rect","stroke":"#555555","strokeWidth":1},"encoding":{"x":{"datum":3,"type":"quantitative","scale":{"domain":[0,1,2,3,4],"range":[13.5,832,1168.7,1409.8,1634],"nice":false,"zero":false}},"x2":{"datum":4},"y":{"field":"r0","type":"quantitative","scale":{"domain":[0,1,2,3,4,5,6,7,8,9,10,11,12,13],"range":[1079,1204,1269.4,1335,1400.6,1466,1532,1597.5,1655,1779,1844.4,1903.8,1962,2020.6],"nice":false,"zero":false}},"y2":{"field":"r1"},"fill":{"field":"eff","type":"quantitative","scale":{"domain":[-94.4,-91.92,-88.36,-85.58,-80.99,-68.4,-58.53,-57.93],"range":["#c79a16","#cc9e1a","#d2a82f","#ddb346","#e6c45c","#fde39c","#fdeab2","#fdecb6"]}}}}
]},
{"data":{"name":"center"},"mark":{"type":"text","align":"center","baseline":"middle","font":"Open Sans","fontSize":39.2,"dy":2,"fill":"#111111"},"encoding":{"x":{"field":"c","type":"quantitative","scale":{"domain":[0,1,2,3,4],"range":[13.5,832,1168.7,1409.8,1634],"nice":false,"zero":false}},"y":{"field":"r","type":"quantitative","scale":{"domain":[0,1,2,3,4,5,6,7,8,9,10,11,12,13],"range":[1079,1204,1269.4,1335,1400.6,1466,1532,1597.5,1655,1779,1844.4,1903.8,1962,2020.6],"nice":false,"zero":false}},"text":{"field":"t"}}}
]}
